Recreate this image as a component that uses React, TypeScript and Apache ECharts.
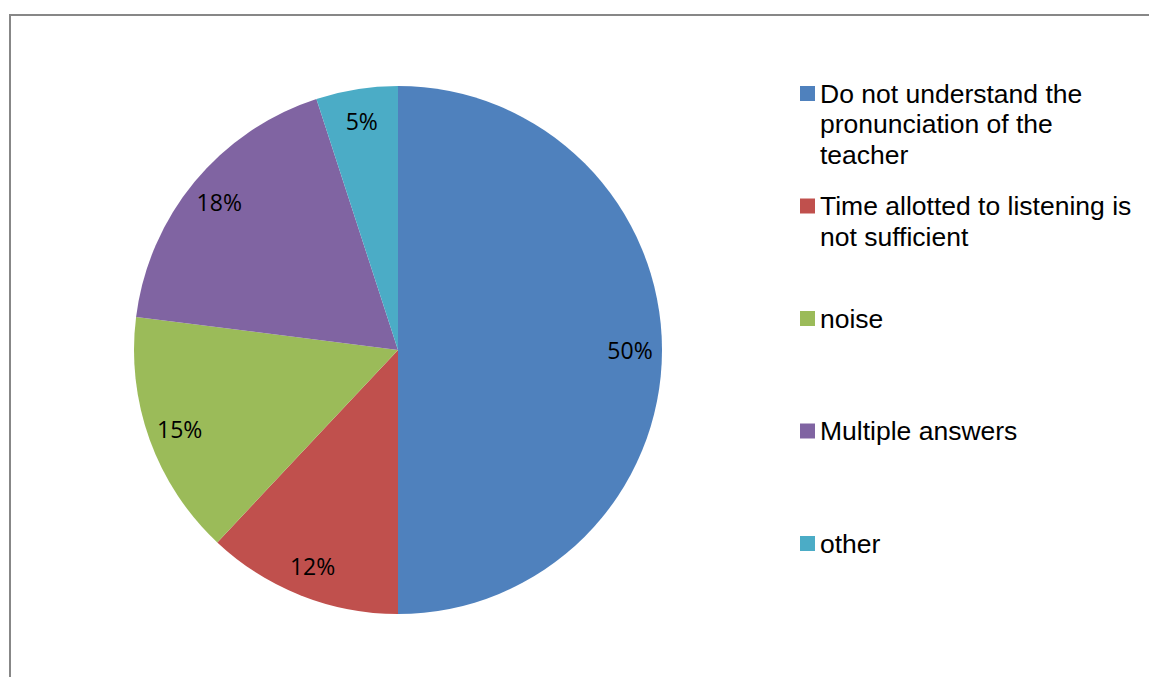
import React, { useEffect, useRef } from "react";
import * as echarts from "echarts";

const categories = [
  "Do not understand the pronunciation of the teacher",
  "Time allotted to listening is not sufficient",
  "noise",
  "Multiple answers",
  "other",
];
const legendLines = [
  ["Do not understand the", "pronunciation of the", "teacher"],
  ["Time allotted to listening is", "not sufficient"],
  ["noise"],
  ["Multiple answers"],
  ["other"],
];
const values = [50, 12, 15, 18, 5];
const colors = ["#4F81BD", "#C0504D", "#9BBB59", "#8064A2", "#4BACC6"];

const LH = 30.5;
const legendIconCenters = [93.5, 206, 318.5, 431, 543.5];

export default function App() {
  const ref = useRef<HTMLDivElement>(null);
  useEffect(() => {
    if (!ref.current) return;
    const chart = echarts.init(ref.current, null, { renderer: "svg" });
    const data = categories.map((name, i) => ({ name, value: values[i] }));
    const legends = categories.map((name, i) => {
      const n = legendLines[i].length;
      const pre = new Array(n - 1).fill(" ");
      return {
        show: true,
        orient: "vertical",
        left: 800,
        top: legendIconCenters[i] - ((2 * n - 1) * LH) / 2,
        padding: 0,
        itemWidth: 15,
        itemHeight: 15,
        icon: "rect",
        selectedMode: false,
        data: [name],
        formatter: () => pre.concat(legendLines[i]).join("\n"),
        textStyle: {
          fontFamily: "Liberation Sans",
          fontSize: 26.5,
          lineHeight: LH,
          color: "#000",
        },
      };
    });
    chart.setOption({
      animation: false,
      color: colors,
      legend: legends,
      graphic: [
        {
          type: "rect",
          z: -10,
          shape: { x: 10, y: 15, width: 1400, height: 1000 },
          style: { fill: "none", stroke: "#878787", lineWidth: 2 },
          silent: true,
        },
      ],
      series: [
        {
          type: "pie",
          center: [398, 350],
          radius: 264,
          startAngle: 90,
          clockwise: true,
          label: { show: false },
          labelLine: { show: false },
          emphasis: { disabled: true },
          silent: true,
          data,
        },
        {
          type: "pie",
          center: [398, 350],
          radius: [194, 264],
          startAngle: 90,
          clockwise: true,
          silent: true,
          emphasis: { disabled: true },
          itemStyle: { color: "rgba(0,0,0,0)" },
          label: {
            show: true,
            position: "inside",
            formatter: "{c}%",
            fontFamily: "Open Sans",
            fontSize: 23,
            color: "#000",
          },
          labelLine: { show: false },
          data,
        },
      ],
    });
    return () => chart.dispose();
  }, []);
  return (
    <div
      ref={ref}
      style={{ position: "fixed", left: 0, top: 0, width: 1149, height: 677, background: "#fff" }}
    />
  );
}
